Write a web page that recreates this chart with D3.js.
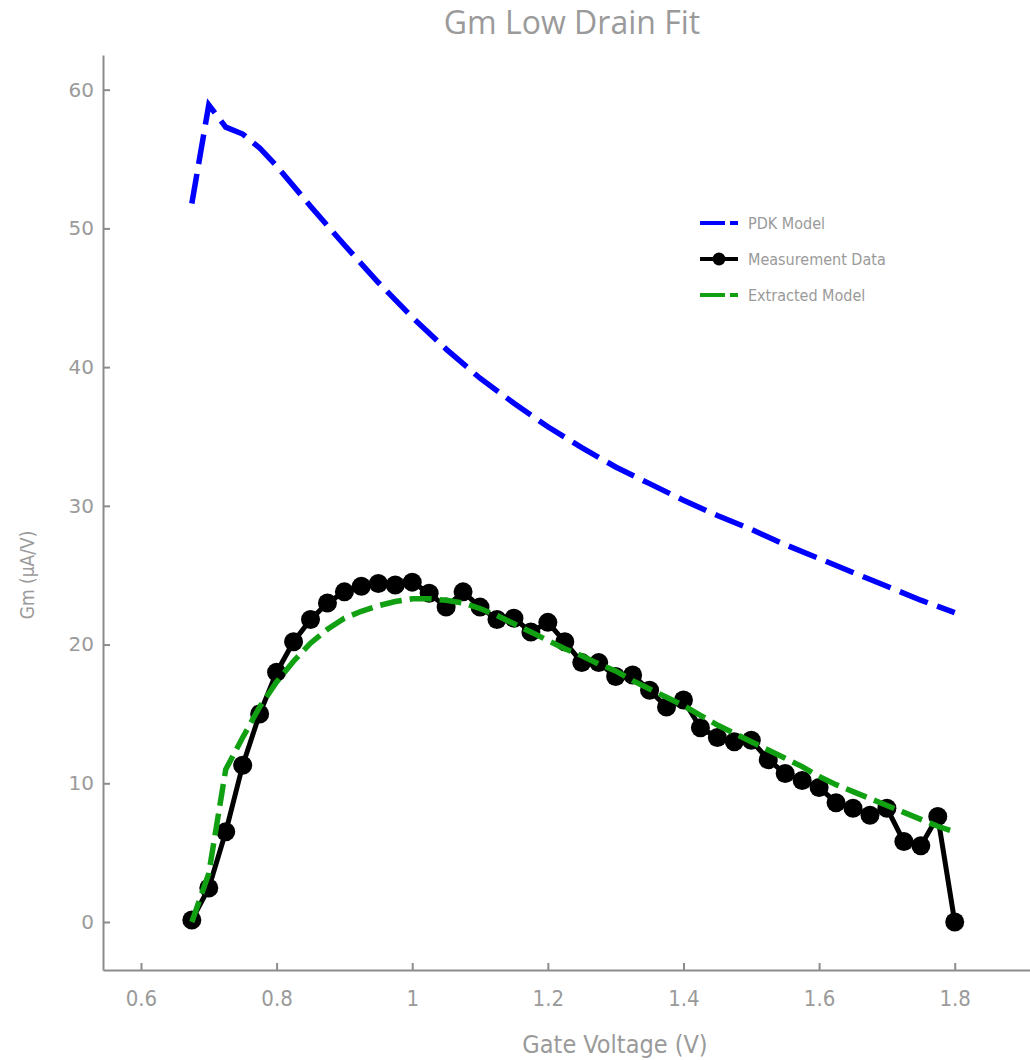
<!DOCTYPE html>
<html>
<head>
<meta charset="utf-8">
<script src="https://cdn.jsdelivr.net/npm/d3@7"></script>
<style>
  body { margin: 0; background: #fff; }
  text { font-family: "Liberation Sans Narrow", "DejaVu Sans Condensed", "Roboto Condensed", sans-serif; fill: #9a9a9a; }
  .axis path, .axis line { stroke: #8c8c8c; stroke-width: 2; }
</style>
</head>
<body>
<div id="chart"></div>
<script>
// measurement sweep (V) and measured Gm (uA/V)
var measVg = [0.675, 0.7, 0.725, 0.75, 0.775, 0.8, 0.825, 0.85, 0.875, 0.9,
  0.925, 0.95, 0.975, 1.0, 1.025, 1.05, 1.075, 1.1, 1.125, 1.15,
  1.175, 1.2, 1.225, 1.25, 1.275, 1.3, 1.325, 1.35, 1.375, 1.4,
  1.425, 1.45, 1.475, 1.5, 1.525, 1.55, 1.575, 1.6, 1.625, 1.65,
  1.675, 1.7, 1.725, 1.75, 1.775, 1.8];
var measGm = [0.14, 2.45, 6.5, 11.3, 15.0, 18.0, 20.2, 21.8, 23.0, 23.8,
  24.2, 24.4, 24.3, 24.5, 23.7, 22.7, 23.8, 22.7, 21.8, 21.9,
  20.9, 21.6, 20.2, 18.7, 18.7, 17.7, 17.8, 16.7, 15.5, 16.0,
  14.0, 13.3, 13.0, 13.1, 11.7, 10.7, 10.2, 9.7, 8.6, 8.2,
  7.7, 8.2, 5.8, 5.5, 7.6, 0.0];

// extracted model on the same sweep
var fitGm = [0.0, 3.5, 11.0, 13.3, 15.5, 17.3, 18.8, 20.1, 21.1, 21.9,
  22.4, 22.8, 23.1, 23.3, 23.3, 23.2, 23.0, 22.6, 22.1, 21.5,
  20.9, 20.3, 19.7, 19.2, 18.6, 18.1, 17.4, 16.8, 16.2, 15.6,
  14.9, 14.2, 13.6, 13.0, 12.4, 11.8, 11.2, 10.5, 9.9, 9.4,
  8.9, 8.4, 7.9, 7.4, 6.9, 6.5];

// PDK model
var pdkVg = [0.675, 0.7, 0.725, 0.75, 0.775, 0.8, 0.85, 0.9, 0.95, 1.0,
  1.05, 1.1, 1.15, 1.2, 1.25, 1.3, 1.35, 1.4, 1.45, 1.5,
  1.55, 1.6, 1.65, 1.7, 1.75, 1.8];
var pdkGm = [51.8, 58.9, 57.3, 56.8, 55.8, 54.5, 51.6, 48.8, 46.1, 43.6,
  41.3, 39.2, 37.4, 35.7, 34.2, 32.8, 31.6, 30.4, 29.3, 28.3,
  27.2, 26.2, 25.2, 24.2, 23.2, 22.3];

var xTicks = [0.6, 0.8, 1, 1.2, 1.4, 1.6, 1.8];
var yTicks = [0, 10, 20, 30, 40, 50, 60];
var legendNames = ["PDK Model", "Measurement Data", "Extracted Model"];

var width = 1030, height = 1060;
var plot = {left: 103, right: 1030, top: 55, bottom: 970};

var svg = d3.select("#chart").append("svg")
  .attr("width", width)
  .attr("height", height);

var x = d3.scaleLinear().domain([0.544, 1.911]).range([plot.left, plot.right]);
var y = d3.scaleLinear().domain([-3.46, 62.5]).range([plot.bottom, plot.top]);

// axes, ticks point inward
var xAxis = d3.axisBottom(x).tickValues(xTicks).tickFormat(d3.format("~g"))
  .tickSizeInner(-7).tickSizeOuter(0).tickPadding(20);
var yAxis = d3.axisLeft(y).tickValues(yTicks)
  .tickSizeInner(-7).tickSizeOuter(0).tickPadding(9);

var xg = svg.append("g").attr("class", "axis")
  .attr("transform", "translate(0," + plot.bottom + ")")
  .call(xAxis);
var yg = svg.append("g").attr("class", "axis")
  .attr("transform", "translate(" + plot.left + ",0)")
  .call(yAxis);
xg.selectAll("text").style("font-size", "22px").style("fill", "#9a9a9a");
yg.selectAll("text").style("font-size", "20px").style("fill", "#9a9a9a")
  .style("font-family", "'DejaVu Sans', sans-serif");

// titles
svg.append("text")
  .attr("x", 572).attr("y", 34)
  .attr("text-anchor", "middle")
  .style("font-family", "'Open Sans', sans-serif")
  .style("font-size", "32px")
  .text("Gm Low Drain Fit");

svg.append("text")
  .attr("x", 615).attr("y", 1053)
  .attr("text-anchor", "middle")
  .style("font-size", "25px")
  .text("Gate Voltage (V)");

svg.append("text")
  .attr("transform", "translate(34,575) rotate(-90)")
  .attr("text-anchor", "middle")
  .style("font-size", "19px")
  .text("Gm (\u00b5A/V)");

var line = d3.line()
  .x(function(d) { return x(d[0]); })
  .y(function(d) { return y(d[1]); });

var pdkData = pdkVg.map(function(v, i) { return [v, pdkGm[i]]; });
var measData = measVg.map(function(v, i) { return [v, measGm[i]]; });
var fitData = measVg.map(function(v, i) { return [v, fitGm[i]]; });

// PDK model
svg.append("path")
  .datum(pdkData)
  .attr("d", line)
  .attr("fill", "none")
  .attr("stroke", "#0000ff")
  .attr("stroke-width", 5.5)
  .attr("stroke-dasharray", "30,10");

// measurement data
svg.append("path")
  .datum(measData)
  .attr("d", line)
  .attr("fill", "none")
  .attr("stroke", "#000")
  .attr("stroke-width", 5)
  .attr("stroke-linejoin", "round");

svg.selectAll(".meas")
  .data(measData)
  .enter().append("circle")
    .attr("class", "meas")
    .attr("cx", function(d) { return x(d[0]); })
    .attr("cy", function(d) { return y(d[1]); })
    .attr("r", 9.5)
    .attr("fill", "#000");

// extracted model
svg.append("path")
  .datum(fitData)
  .attr("d", line)
  .attr("fill", "none")
  .attr("stroke", "#11a011")
  .attr("stroke-width", 5.5)
  .attr("stroke-dasharray", "22,8");

// legend
var legendColors = ["#0000ff", "#000", "#11a011"];
var lg = svg.append("g").attr("transform", "translate(700,223)");
legendNames.forEach(function(name, i) {
  var row = lg.append("g").attr("transform", "translate(0," + (i * 36) + ")");
  row.append("line")
    .attr("x1", 0).attr("x2", 38)
    .attr("stroke", legendColors[i])
    .attr("stroke-width", 4)
    .attr("stroke-dasharray", i == 1 ? null : "25,5");
  if (i == 1) {
    row.append("circle").attr("cx", 19).attr("r", 6.5).attr("fill", "#000");
  }
  row.append("text")
    .attr("x", 48).attr("y", 0).attr("dy", "0.35em")
    .style("font-size", "16px")
    .text(name);
});
</script>
</body>
</html>
